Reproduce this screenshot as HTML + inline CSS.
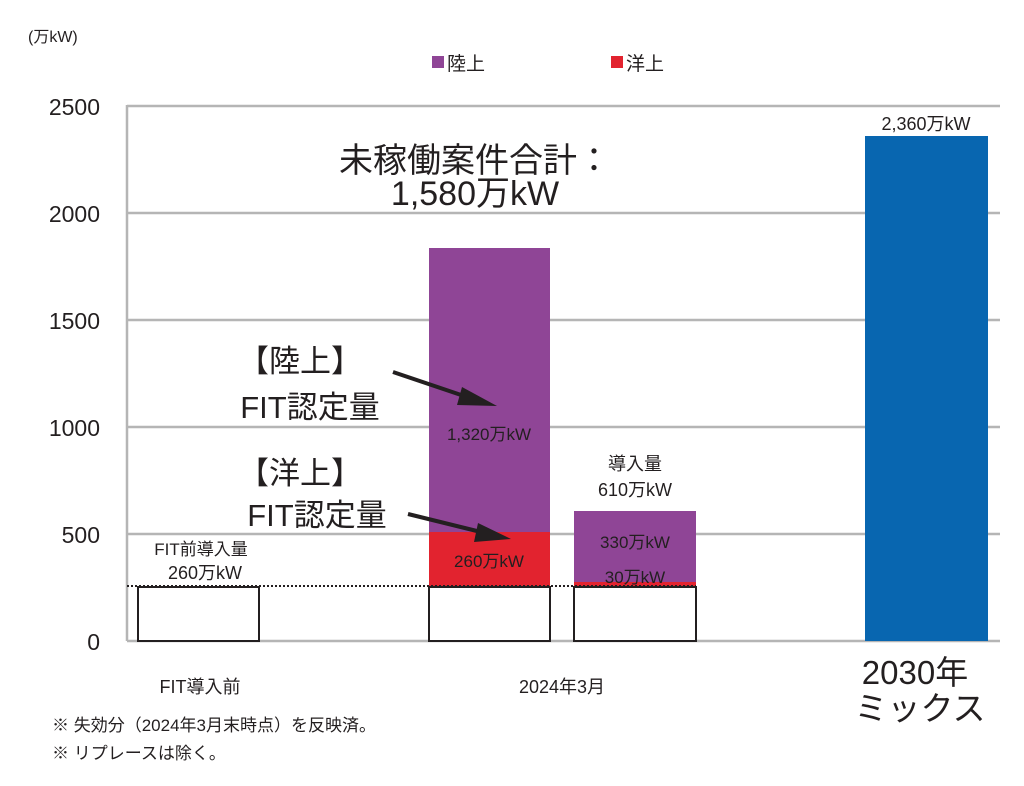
<!DOCTYPE html>
<html><head><meta charset="utf-8"><style>
body{margin:0;background:#fff}
svg text{font-family:"Liberation Sans","Noto Sans CJK JP",sans-serif;fill:#231f20}
</style></head><body>
<svg width="1024" height="781" viewBox="0 0 1024 781" xmlns="http://www.w3.org/2000/svg">
<text x="28" y="42" font-size="16">(万kW)</text>
<rect x="432" y="56" width="12" height="12" fill="#8f4596"/><text x="447" y="70" font-size="19">陸上</text>
<rect x="611" y="56" width="12" height="12" fill="#e2232f"/><text x="626" y="70" font-size="19">洋上</text>
<g stroke="#b5b5b5" stroke-width="2.5">
<line x1="127" y1="106" x2="1000" y2="106"/><line x1="127" y1="213" x2="1000" y2="213"/>
<line x1="127" y1="320" x2="1000" y2="320"/><line x1="127" y1="427" x2="1000" y2="427"/>
<line x1="127" y1="534" x2="1000" y2="534"/><line x1="127" y1="641" x2="1000" y2="641"/>
<line x1="127" y1="105" x2="127" y2="641"/>
</g>
<g font-size="23" text-anchor="end">
<text x="100" y="115">2500</text><text x="100" y="222">2000</text><text x="100" y="329">1500</text>
<text x="100" y="436">1000</text><text x="100" y="543">500</text><text x="100" y="650">0</text>
</g>
<rect x="429" y="248" width="121" height="284" fill="#8f4596"/>
<rect x="429" y="532" width="121" height="54" fill="#e2232f"/>
<rect x="574" y="511" width="122" height="71" fill="#8f4596"/>
<rect x="574" y="582" width="122" height="4" fill="#e2232f"/>
<rect x="865" y="136" width="123" height="505" fill="#0866b0"/>
<g fill="#fff" stroke="#231f20" stroke-width="2">
<rect x="138" y="587" width="121" height="54"/><rect x="429" y="587" width="121" height="54"/><rect x="574" y="587" width="122" height="54"/>
</g>
<line x1="127" y1="586" x2="696" y2="586" stroke="#231f20" stroke-width="2" stroke-dasharray="2,2"/>
<text x="475" y="172" font-size="34" text-anchor="middle">未稼働案件合計：</text>
<text x="475" y="205" font-size="34" text-anchor="middle">1,580万kW</text>
<text x="300" y="372" font-size="31" text-anchor="middle">【陸上】</text>
<text x="310" y="418" font-size="31" text-anchor="middle">FIT認定量</text>
<text x="300" y="484" font-size="31" text-anchor="middle">【洋上】</text>
<text x="317" y="526" font-size="31" text-anchor="middle">FIT認定量</text>
<g stroke="#231f20" stroke-width="4"><line x1="393" y1="372" x2="470" y2="398"/><line x1="408" y1="514" x2="485" y2="533"/></g>
<polygon points="497,406 462,387 457,405" fill="#231f20"/>
<polygon points="511,539 478,523 474,542" fill="#231f20"/>
<text x="489" y="440" font-size="17" text-anchor="middle">1,320万kW</text>
<text x="489" y="567" font-size="17" text-anchor="middle">260万kW</text>
<text x="635" y="548" font-size="17" text-anchor="middle">330万kW</text>
<text x="635" y="583" font-size="17" text-anchor="middle">30万kW</text>
<text x="635" y="470" font-size="18" text-anchor="middle">導入量</text>
<text x="635" y="496" font-size="18" text-anchor="middle">610万kW</text>
<text x="201" y="555" font-size="17" text-anchor="middle">FIT前導入量</text>
<text x="205" y="579" font-size="18" text-anchor="middle">260万kW</text>
<text x="926" y="130" font-size="18" text-anchor="middle">2,360万kW</text>
<text x="200" y="693" font-size="18" text-anchor="middle">FIT導入前</text>
<text x="562" y="693" font-size="18" text-anchor="middle">2024年3月</text>
<text x="915" y="684" font-size="33" text-anchor="middle">2030年</text>
<text x="920" y="720" font-size="33" text-anchor="middle">ミックス</text>
<text x="52" y="731" font-size="17">※ 失効分（2024年3月末時点）を反映済。</text>
<text x="52" y="759" font-size="17">※ リプレースは除く。</text>
</svg>
</body></html>
